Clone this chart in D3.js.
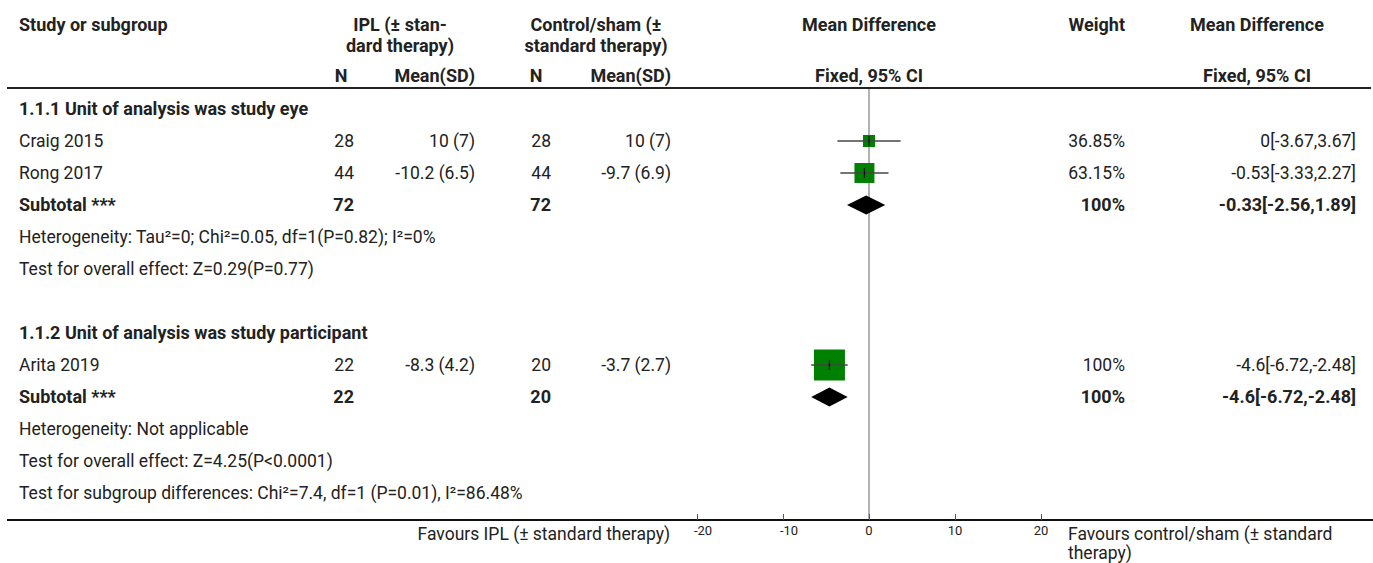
<!DOCTYPE html>
<html>
<head>
<meta charset="utf-8">
<script src="https://cdn.jsdelivr.net/npm/d3@7"></script>
<style>
  body { margin: 0; background: #fff; }
  svg text { font-family: "Source Sans Pro", Roboto, "Noto Sans", sans-serif; fill: #222; }
</style>
</head>
<body>
<div id="forest"></div>
<script>
// data
const subgroupTitles = ["1.1.1 Unit of analysis was study eye", "1.1.2 Unit of analysis was study participant"];
const studyNames = ["Craig 2015", "Rong 2017", "Arita 2019"];
const studyGroup = [0, 0, 1];
const iplN = [28, 44, 22];
const iplMeanSD = ["10 (7)", "-10.2 (6.5)", "-8.3 (4.2)"];
const ctrlN = [28, 44, 20];
const ctrlMeanSD = ["10 (7)", "-9.7 (6.9)", "-3.7 (2.7)"];
const studyMD = [0, -0.53, -4.6];
const studyLow = [-3.67, -3.33, -6.72];
const studyHigh = [3.67, 2.27, -2.48];
const studyWeight = [36.85, 63.15, 100];
const studyWeightLabel = ["36.85%", "63.15%", "100%"];
const studyCILabel = ["0[-3.67,3.67]", "-0.53[-3.33,2.27]", "-4.6[-6.72,-2.48]"];

const subtotalN1 = [72, 22];
const subtotalN2 = [72, 20];
const subtotalMD = [-0.33, -4.6];
const subtotalLow = [-2.56, -6.72];
const subtotalHigh = [1.89, -2.48];
const subtotalWeightLabel = ["100%", "100%"];
const subtotalCILabel = ["-0.33[-2.56,1.89]", "-4.6[-6.72,-2.48]"];
const heterogeneity = ["Heterogeneity: Tau\u00b2=0; Chi\u00b2=0.05, df=1(P=0.82); I\u00b2=0%", "Heterogeneity: Not applicable"];
const overallEffect = ["Test for overall effect: Z=0.29(P=0.77)", "Test for overall effect: Z=4.25(P<0.0001)"];
const subgroupTest = "Test for subgroup differences: Chi\u00b2=7.4, df=1 (P=0.01), I\u00b2=86.48%";

const axisTicks = [-20, -10, 0, 10, 20];
const favoursLeft = "Favours IPL (\u00b1 standard therapy)";
const favoursRight = ["Favours control/sham (\u00b1 standard", "therapy)"];

const width = 1373, height = 563;
const svg = d3.select("#forest").append("svg")
  .attr("width", width).attr("height", height);

// build the row list
const rows = [];
subgroupTitles.forEach((t, g) => {
  if (g > 0) rows.push({ type: "blank" });
  rows.push({ type: "title", text: t });
  studyNames.forEach((s, i) => { if (studyGroup[i] === g) rows.push({ type: "study", i }); });
  rows.push({ type: "subtotal", g });
  rows.push({ type: "note", text: heterogeneity[g] });
  rows.push({ type: "note", text: overallEffect[g] });
});
rows.push({ type: "note", text: subgroupTest });

const y = d3.scaleLinear().domain([0, rows.length - 1]).range([109, 493]);
const x = d3.scaleLinear().domain([-20, 20]).range([697, 1041]);
const boxSize = d3.scaleLinear().domain([0, 100]).range([1, 31]);

const col = { name: 19, n1: 354, m1: 475, n2: 551, m2: 671, weight: 1125, ci: 1356 };
const fsReg = 17.5, fsBold = 18;

function txt(xp, yp, s, anchor, bold, size) {
  return svg.append("text")
    .attr("x", xp).attr("y", yp).attr("dy", "0.35em")
    .attr("text-anchor", anchor || "start")
    .attr("font-size", size || (bold ? fsBold : fsReg))
    .attr("font-weight", bold ? "bold" : "normal")
    .text(s);
}

// header
txt(col.name, 25, "Study or subgroup", "start", true);
txt(400, 25, "IPL (\u00b1 stan-", "middle", true);
txt(400, 46, "dard therapy)", "middle", true);
txt(596, 25, "Control/sham (\u00b1", "middle", true);
txt(596, 46, "standard therapy)", "middle", true);
txt(x(0), 25, "Mean Difference", "middle", true);
txt(col.weight, 25, "Weight", "end", true);
txt(1257, 25, "Mean Difference", "middle", true);
txt(341, 76, "N", "middle", true);
txt(col.m1, 76, "Mean(SD)", "end", true);
txt(536, 76, "N", "middle", true);
txt(col.m2, 76, "Mean(SD)", "end", true);
txt(x(0), 76, "Fixed, 95% CI", "middle", true);
txt(1257, 76, "Fixed, 95% CI", "middle", true);

svg.append("line")
  .attr("x1", 7).attr("x2", width - 2).attr("y1", 88).attr("y2", 88)
  .attr("stroke", "#222").attr("stroke-width", 2);

// zero line
const axisY = 520;
svg.append("line")
  .attr("x1", x(0)).attr("x2", x(0)).attr("y1", 89).attr("y2", axisY)
  .attr("stroke", "#999").attr("stroke-width", 1.5);

// rows
rows.forEach((r, k) => {
  const yy = y(k);
  if (r.type === "title") txt(col.name, yy, r.text, "start", true);
  if (r.type === "note") txt(col.name, yy, r.text, "start", false);
  if (r.type === "study") {
    const i = r.i;
    txt(col.name, yy, studyNames[i]);
    txt(col.n1, yy, iplN[i], "end");
    txt(col.m1, yy, iplMeanSD[i], "end");
    txt(col.n2, yy, ctrlN[i], "end");
    txt(col.m2, yy, ctrlMeanSD[i], "end");
    txt(col.weight, yy, studyWeightLabel[i], "end");
    txt(col.ci, yy, studyCILabel[i], "end");
    const b = boxSize(studyWeight[i]);
    svg.append("rect")
      .attr("x", x(studyMD[i]) - b / 2).attr("y", yy - b / 2)
      .attr("width", b).attr("height", b)
      .attr("fill", "#008000");
    svg.append("line")
      .attr("x1", x(studyLow[i])).attr("x2", x(studyHigh[i]))
      .attr("y1", yy).attr("y2", yy)
      .attr("stroke", "#444").attr("stroke-width", 1.5);
    svg.append("line")
      .attr("x1", x(studyMD[i])).attr("x2", x(studyMD[i]))
      .attr("y1", yy - 5).attr("y2", yy + 5)
      .attr("stroke", "#111").attr("stroke-width", 1.3);
  }
  if (r.type === "subtotal") {
    const g = r.g;
    txt(col.name, yy, "Subtotal ***", "start", true);
    txt(col.n1, yy, subtotalN1[g], "end", true);
    txt(col.n2, yy, subtotalN2[g], "end", true);
    txt(col.weight, yy, subtotalWeightLabel[g], "end", true);
    txt(col.ci, yy, subtotalCILabel[g], "end", true);
    const pts = [
      [x(subtotalLow[g]), yy], [x(subtotalMD[g]), yy - 9.5],
      [x(subtotalHigh[g]), yy], [x(subtotalMD[g]), yy + 9.5]
    ];
    svg.append("path")
      .attr("d", d3.line()(pts) + "Z")
      .attr("fill", "#000");
  }
});

// bottom axis
svg.append("line")
  .attr("x1", 7).attr("x2", width).attr("y1", axisY).attr("y2", axisY)
  .attr("stroke", "#111").attr("stroke-width", 2);

const axis = d3.axisTop(x).tickValues(axisTicks).tickSize(6).tickFormat(d3.format("d"));
const ag = svg.append("g").attr("transform", `translate(0,${axisY})`).call(axis);
ag.select(".domain").remove();
ag.selectAll(".tick line").attr("stroke", "#555");
ag.selectAll(".tick text").remove();
svg.selectAll(".tickLabel").data(axisTicks).enter().append("text")
  .attr("class", "tickLabel")
  .attr("x", d => x(d)).attr("y", 530).attr("dy", "0.35em")
  .attr("dx", d => d < 0 ? 6 : 0)
  .attr("text-anchor", "middle").attr("font-size", 13)
  .text(d => d);

txt(670, 534, favoursLeft, "end");
txt(1068, 534, favoursRight[0], "start");
txt(1068, 553, favoursRight[1], "start");
</script>
</body>
</html>
